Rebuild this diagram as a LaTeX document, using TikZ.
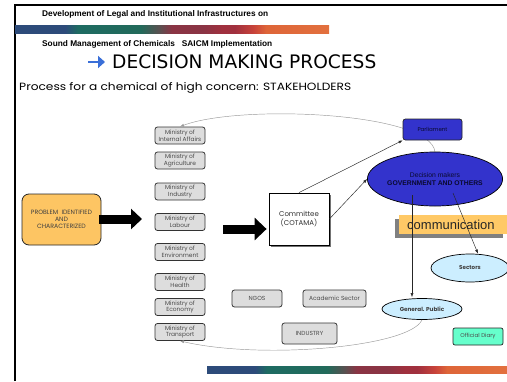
\documentclass[tikz,border=0pt]{standalone}
\usepackage{fontspec}
\setmainfont{Liberation Sans}
\newfontfamily\pop{Poppins}
\newfontfamily\popw[FakeStretch=1.16]{Poppins}
\newfontfamily\dvs{DejaVu Sans}
\usetikzlibrary{arrows.meta,shadows,shapes.geometric,calc}
\definecolor{navy}{HTML}{2D4B7A}
\definecolor{teal1}{HTML}{1E6B62}
\definecolor{teal2}{HTML}{226A5A}
\definecolor{grayish}{HTML}{5A5050}
\definecolor{maroon1}{HTML}{8A3444}
\definecolor{red1}{HTML}{A0303E}
\definecolor{red2}{HTML}{C8433A}
\definecolor{orng}{HTML}{DE6538}
\definecolor{orng2}{HTML}{E2703E}
\definecolor{probfill}{HTML}{FDC563}
\definecolor{commfill}{HTML}{FFC966}
\definecolor{govblue}{HTML}{3333CC}
\definecolor{govtext}{HTML}{0A0A30}
\definecolor{lightblue}{HTML}{CCEEFF}
\definecolor{diary}{HTML}{66FFCC}
\definecolor{minfill}{HTML}{DDDDDD}
\definecolor{mintext}{HTML}{4A4A4A}
\definecolor{arrowblue}{HTML}{3A6FD8}
\pgfdeclarehorizontalshading{barshade}{100bp}{color(0bp)=(navy); color(25bp)=(navy); color(33bp)=(navy); color(35bp)=(teal1); color(45bp)=(teal2); color(48bp)=(grayish); color(50bp)=(maroon1); color(55bp)=(maroon1); color(58bp)=(red1); color(60bp)=(red1); color(63bp)=(red2); color(65bp)=(orng); color(75bp)=(orng2); color(100bp)=(orng2)}
\begin{document}
\begin{tikzpicture}[x=1pt,y=-1pt,
  txt/.style={inner sep=0pt, anchor=west},
  minbox/.style={draw=black!80, line width=0.8pt, rounded corners=2.5pt, fill=minfill,
    minimum width=50pt, minimum height=17pt, inner sep=0pt, align=center,
    font=\pop\fontsize{5.9}{6.6}\selectfont, text=mintext},
  graybox/.style={minbox},
  conn/.style={black!85, line width=0.45pt, -{Latex[length=4pt,width=3pt]}},
  gconn/.style={black!40, line width=0.45pt, -{Latex[length=4pt,width=3pt]}},
  fatarrow/.style={line width=9pt, -{Triangle[length=11pt,width=20pt]}},
  bar/.style={shading=barshade}
]
\useasboundingbox (0,0) rectangle (507,381);
\fill[white] (0,0) rectangle (507,381);
% frame
\draw[line width=1.5pt] (15,381) -- (15,5) -- (507,5);
% gradient bars
\shade[bar] (15,25) rectangle (329,33);
\shade[bar] (207,366) rectangle (507,373);
% header texts
\node[txt, font=\bfseries\fontsize{8.3}{9}\selectfont] (h1) at (42,14.5) {Development of Legal and Institutional Infrastructures on};
\node[txt, font=\bfseries\fontsize{8.3}{9}\selectfont] (h2) at (42,44) {Sound Management of Chemicals\ \ \ SAICM Implementation};
\coordinate (ta) at (88,62);
\coordinate (tb) at (105,62);
\draw[arrowblue, line width=2.6pt, -{Triangle[length=7pt,width=12pt]}] (ta) -- (tb);
\node[txt, font=\dvs\fontsize{18.6}{19}\selectfont] (title) at (112,62) {DECISION MAKING PROCESS};
\node[txt, font=\popw\fontsize{10.5}{11}\selectfont] (sub) at (19,88) {Process for a chemical of high concern: STAKEHOLDERS};
% problem box
\node[draw=black!85, line width=0.8pt, rounded corners=7pt, fill=probfill, minimum width=79pt, minimum height=51pt,
  align=center, inner sep=0pt, font=\pop\fontsize{6.2}{7}\selectfont, text=black!75] (prob) at (61.5,219.5)
  {PROBLEM\ \ IDENTIFIED\\AND\\CHARACTERIZED};
% ministries
\node[minbox] (m1) at (180,135.5) {Ministry of\\Internal Affairs};
\node[minbox] (m2) at (180,160.5) {Ministry of\\Agriculture};
\node[minbox] (m3) at (180,191.5) {Ministry of\\Industry};
\node[minbox] (m4) at (180,222) {Ministry of\\Labour};
\node[minbox] (m5) at (180,252) {Ministry of\\Environment};
\node[minbox] (m6) at (180,282) {Ministry of\\Health};
\node[minbox] (m7) at (180,307) {Ministry of\\Economy};
\node[minbox] (m8) at (180,332) {Ministry of\\Transport};
% other gray boxes
\node[graybox] (ngo) at (257,298.5) {NGOS};
\node[graybox, minimum width=63pt] (acad) at (334.5,298.5) {Academic Sector};
\node[graybox, minimum width=55pt, minimum height=21pt] (ind) at (309.5,333.5) {INDUSTRY};
% committee
\node[draw=black, line width=0.8pt, fill=white, minimum width=60pt, minimum height=52pt, align=center, inner sep=0pt,
  font=\pop\fontsize{7}{8.5}\selectfont, text=black!80,
  drop shadow={shadow xshift=1.6pt, shadow yshift=-1.6pt, fill=black!55, opacity=1}] (comm) at (299,219)
  {Committee\\(COTAMA)};
% thick arrows
\coordinate (a1s) at (99,219);
\coordinate (a1e) at (142,219);
\draw[fatarrow] (a1s) -- (a1e);
\coordinate (a2s) at (223,229);
\draw[fatarrow, -{Triangle[length=12pt,width=22pt]}] (a2s) -- ([xshift=-2pt]comm.west |- a2s);
% curve behind parliament
\coordinate (dmtop) at (435,152);
\draw[gconn] (dmtop) .. controls (431,112) and (240,104) .. (m1.north);
% parliament
\node[draw=black!85, line width=0.7pt, rounded corners=2.5pt, fill=govblue, minimum width=59pt, minimum height=21pt,
  inner sep=0pt, font=\pop\fontsize{5.5}{6}\selectfont, text=govtext] (parl) at (432.5,129.5) {Parliament};
% decision makers
\node[draw=black, line width=0.7pt, ellipse, fill=govblue, minimum width=104pt, minimum height=54pt, inner sep=0pt,
  align=center, font=\fontsize{6.8}{8.5}\selectfont, text=govtext] (dm) at (435,179)
  {Decision makers\\\bfseries GOVERNMENT AND OTHERS};
% communication
\node[anchor=west, fill=commfill, text width=92pt, inner xsep=8pt, inner ysep=0pt, minimum height=19pt,
  font=\fontsize{13}{14}\selectfont, text=black!85,
  drop shadow={shadow xshift=-4pt, shadow yshift=-4pt, fill=black!50, opacity=1}] (commu) at (399,224.5) {communication};
% sectors & general public
\node[draw=black, line width=0.7pt, ellipse, fill=lightblue, minimum width=78pt, minimum height=28pt, inner sep=0pt,
  font=\pop\bfseries\fontsize{5.6}{6}\selectfont, text=black!75] (sec) at (470,268) {Sectors};
\node[draw=black, line width=0.7pt, ellipse, fill=lightblue, minimum width=80pt, minimum height=21pt, inner sep=0pt,
  font=\pop\bfseries\fontsize{5.7}{6}\selectfont, text=black!75] (gp) at (422,309) {General. Public};
% official diary
\node[draw=black!85, line width=0.7pt, rounded corners=2pt, fill=diary, minimum width=50pt, minimum height=17pt,
  inner sep=0pt, font=\pop\fontsize{5.6}{6}\selectfont, text=black!70] (diary) at (478,336.5) {Official Diary};
% connectors
\draw[conn] (comm.north) -- (parl.south west);
\draw[conn] (comm.east) -- (dm.west);
\draw[conn] ([xshift=-23pt,yshift=-16pt]dm.center) -- ([xshift=-10pt,yshift=1pt]gp.north);
\draw[conn] ([xshift=18pt,yshift=-14pt]dm.center) -- ([xshift=8pt]sec.north);
\draw[gconn] (gp.south) .. controls (410,347) and (262,360) .. (m8.south);
\end{tikzpicture}
\end{document}
